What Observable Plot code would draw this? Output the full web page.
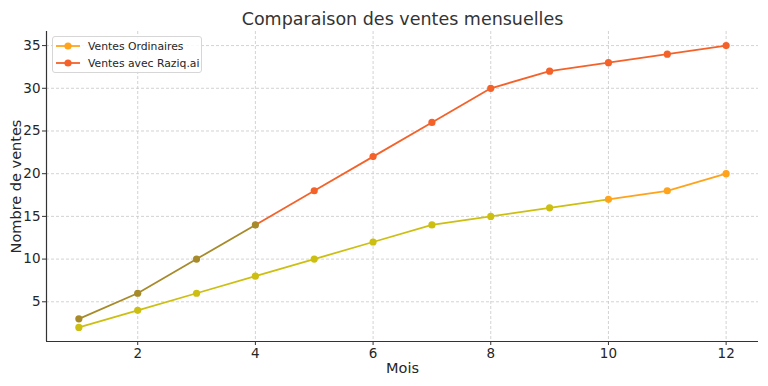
<!DOCTYPE html>
<html>
<head>
<meta charset="utf-8">
<script src="https://cdn.jsdelivr.net/npm/d3@7"></script>
<script src="https://cdn.jsdelivr.net/npm/@observablehq/plot@0.6"></script>
<style>
  html, body { margin: 0; padding: 0; background: #fff; }
  #wrap { position: relative; width: 768px; height: 386px; font-family: "DejaVu Sans", sans-serif; }
  #wrap svg g[aria-label="x-axis tick label"] text,
  #wrap svg g[aria-label="y-axis tick label"] text { font-size: 13.5px; }
  #wrap svg g[aria-label="x-axis label"] text,
  #wrap svg g[aria-label="y-axis label"] text { font-size: 14.5px; }
  #legend { position: absolute; left: 52px; top: 36px; width: 148px; height: 35px; border: 1px solid #d6d6d6; border-radius: 3px; background: rgba(255,255,255,0.85); font-size: 10.8px; color: #262626; }
  .li { position: absolute; left: 3px; height: 16px; display: flex; align-items: center; }
  .li span { margin-left: 8px; white-space: nowrap; }
</style>
</head>
<body>
<div id="wrap"></div>
<script>
const months = [1, 2, 3, 4, 5, 6, 7, 8, 9, 10, 11, 12];
const ventesOrdinaires = [2, 4, 6, 8, 10, 12, 14, 15, 16, 17, 18, 20];
const ventesRaziq = [3, 6, 10, 14, 18, 22, 26, 30, 32, 33, 34, 35];
const seriesNames = ["Ventes Ordinaires", "Ventes avec Raziq.ai"];
const xTicks = [2, 4, 6, 8, 10, 12];
const yTicks = [5, 10, 15, 20, 25, 30, 35];
const titleText = "Comparaison des ventes mensuelles";
const xLabel = "Mois";
const yLabel = "Nombre de ventes";

// styling (not data)
const legendColors = ["#ffa41c", "#f4622a"];
function colorAt(series, m) {
  if (series === 0) return m < 10 ? "#cdbf12" : "#ffa31a";
  return m <= 4 ? "#a78a2a" : "#f4622a";
}

const table = [];
const segs = [];
[ventesOrdinaires, ventesRaziq].forEach((vals, s) => {
  months.forEach((m, i) => {
    table.push({series: s, month: m, value: vals[i], color: colorAt(s, m)});
    if (i < months.length - 1) {
      segs.push({series: s, x1: m, y1: vals[i], x2: months[i + 1], y2: vals[i + 1],
        color: colorAt(s, s === 0 ? m : (months[i + 1] <= 4 ? m : months[i + 1]))});
    }
  });
});

const chart = Plot.plot({
  width: 768,
  height: 386,
  marginLeft: 46,
  marginRight: 10,
  marginTop: 31,
  marginBottom: 45,
  style: {fontFamily: "DejaVu Sans, sans-serif", fontSize: "13.5px", color: "#262626", background: "#fff"},
  x: {domain: [0.45, 12.55]},
  y: {domain: [0.35, 36.65]},
  marks: [
    Plot.gridX(xTicks, {stroke: "#c8c8c8", strokeOpacity: 1, strokeDasharray: "3,2", strokeWidth: 0.8}),
    Plot.gridY(yTicks, {stroke: "#c8c8c8", strokeOpacity: 1, strokeDasharray: "3,2", strokeWidth: 0.8}),
    Plot.axisX(xTicks, {tickSize: 4, tickPadding: 3, label: xLabel, labelAnchor: "center", labelArrow: "none", labelOffset: 31, stroke: "#333", fill: "#262626"}),
    Plot.axisY(yTicks, {tickSize: 4, tickPadding: 2, label: yLabel, labelAnchor: "center", labelArrow: "none", labelOffset: 36, stroke: "#333", fill: "#262626"}),
    Plot.ruleX([0.45], {stroke: "#333", strokeWidth: 1.2}),
    Plot.ruleY([0.35], {stroke: "#333", strokeWidth: 1.2}),
    Plot.link(segs, {x1: "x1", y1: "y1", x2: "x2", y2: "y2", stroke: d => d.color, strokeWidth: 1.8}),
    Plot.dot(table, {x: "month", y: "value", r: 3.6, fill: d => d.color, stroke: "none"}),
    Plot.text([titleText], {frameAnchor: "top", dy: -12, fontSize: 17.5, fill: "#333", lineAnchor: "middle"})
  ]
});

const wrap = document.getElementById("wrap");
wrap.appendChild(chart);

const legend = document.createElement("div");
legend.id = "legend";
seriesNames.forEach((name, i) => {
  const item = document.createElement("div");
  item.className = "li";
  item.style.top = (1 + i * 17) + "px";
  item.innerHTML = `<svg width="24" height="10"><line x1="0" y1="5" x2="24" y2="5" stroke="${legendColors[i]}" stroke-width="1.8"/><circle cx="12" cy="5" r="3.6" fill="${legendColors[i]}"/></svg><span>${name}</span>`;
  legend.appendChild(item);
});
wrap.appendChild(legend);
</script>
</body>
</html>
